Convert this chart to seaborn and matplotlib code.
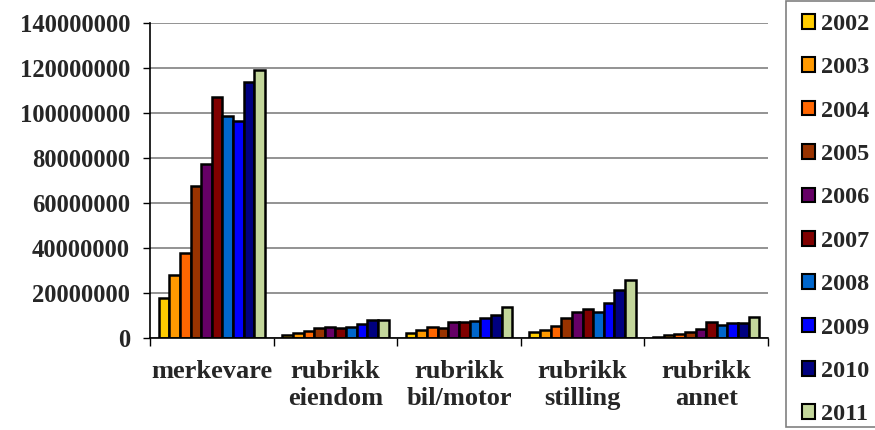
import matplotlib
matplotlib.use("Agg")
import matplotlib.pyplot as plt
from matplotlib.patches import Rectangle
import seaborn as sns
import pandas as pd
import numpy as np

categories = ["merkevare", "rubrikk\neiendom", "rubrikk\nbil/motor", "rubrikk\nstilling", "rubrikk\nannet"]
years = ["2002", "2003", "2004", "2005", "2006", "2007", "2008", "2009", "2010", "2011"]
merkevare = [17800000, 28000000, 37900000, 67700000, 77200000, 107300000, 98700000, 96600000, 113600000, 119100000]
eiendom = [1500000, 2200000, 3000000, 4300000, 4700000, 4400000, 5000000, 6200000, 7800000, 7800000]
bil_motor = [2400000, 3400000, 5000000, 4300000, 7000000, 7000000, 7400000, 8900000, 10400000, 13900000]
stilling = [2700000, 3700000, 5300000, 9000000, 11400000, 13000000, 11600000, 15400000, 21300000, 25900000]
annet = [300000, 1200000, 1900000, 2700000, 3900000, 7000000, 5900000, 6500000, 6500000, 9200000]
y_ticks = [0, 20000000, 40000000, 60000000, 80000000, 100000000, 120000000, 140000000]
colors = ["#FFCC00", "#FF9900", "#FF6600", "#993300", "#660066", "#800000", "#0066CC", "#0000FF", "#000080", "#C3D69B"]

series = [merkevare, eiendom, bil_motor, stilling, annet]
rows = []
for cat, vals in zip(categories, series):
    for yr, v in zip(years, vals):
        rows.append({"category": cat, "year": yr, "value": v})
df = pd.DataFrame(rows)

sns.set_theme(style="white")
plt.rcParams['font.family'] = ['Liberation Serif', 'DejaVu Serif']
plt.rcParams['font.weight'] = 'bold'

W, H = 875, 430
fig = plt.figure(figsize=(W/100, H/100), dpi=100)
ax = fig.add_axes([150/W, 1-338/H, (768-150)/W, (338-23)/H])

sns.barplot(data=df, x="category", y="value", hue="year", hue_order=years,
            order=categories, palette=colors, width=0.86, dodge=True,
            edgecolor="black", linewidth=1.8, ax=ax, legend=True, saturation=1)

ax.set_ylim(0, 140000000)
ax.set_xlim(-0.5, 4.5)
ax.set_yticks(y_ticks)
ax.set_yticklabels([str(v) for v in y_ticks], fontsize=17.7, fontweight='bold')
ax.yaxis.grid(True, color="#808080", linewidth=1.2)
ax.set_axisbelow(True)
ax.set_xlabel("")
ax.set_ylabel("")
ax.set_xticks(range(len(categories)))
ax.set_xticklabels(categories, fontsize=19, fontweight='bold', linespacing=1.21)
ax.tick_params(axis='x', which='major', length=0, pad=16)
ax.set_xticks(np.arange(-0.5, 5, 1), minor=True)
ax.tick_params(axis='x', which='minor', length=6, width=1, color='black', direction='out', bottom=True)
ax.tick_params(axis='y', length=5, width=1, color='black', direction='out', left=True, pad=9.4)
for s in ['top', 'right']:
    ax.spines[s].set_visible(False)
ax.spines['left'].set_color('black')
ax.spines['bottom'].set_color('black')
ax.spines['left'].set_linewidth(1.2)
ax.spines['bottom'].set_linewidth(1.2)

handles, labels = ax.get_legend_handles_labels()
ax.get_legend().remove()

# legend frame
fig.patches.append(Rectangle((786/W, 1-427/H), (W+10-786)/W, (427-1)/H,
                             transform=fig.transFigure, facecolor='white',
                             edgecolor='#808080', linewidth=1.2, zorder=0))
leg = fig.legend(handles, labels, loc='upper left', bbox_to_anchor=(802/W, 1-14/H),
                 frameon=False,
                 prop={'family': 'Liberation Serif', 'weight': 'bold', 'size': 17.5},
                 handlelength=0.55, handleheight=0.55, handletextpad=0.25,
                 labelspacing=0.92, borderpad=0, borderaxespad=0)
for h in leg.legend_handles:
    h.set_linewidth(1.5)
    h.set_edgecolor('black')

fig.savefig("out.png", dpi=100)
